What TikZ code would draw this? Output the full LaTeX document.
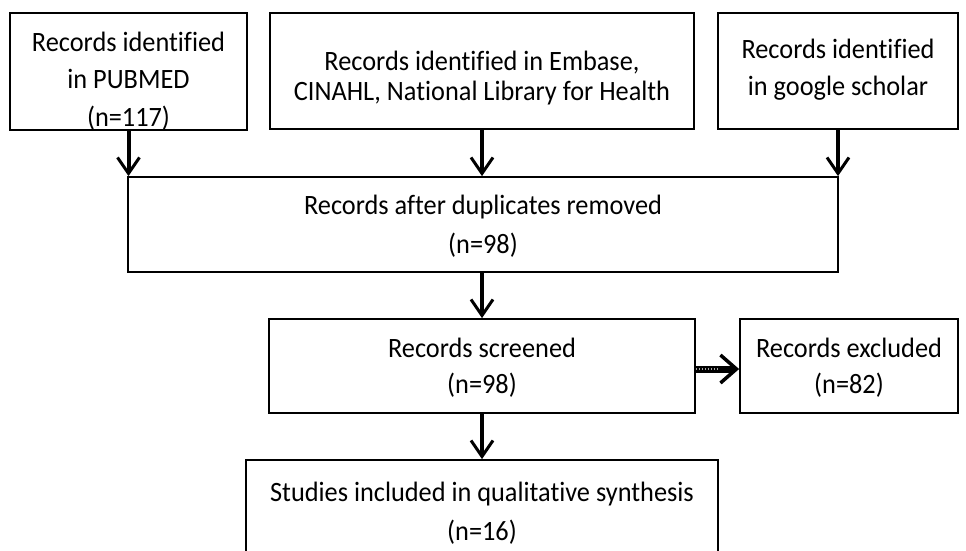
\documentclass[tikz,border=0pt]{standalone}
\usepackage{fontspec}
\setmainfont{Carlito}[FakeStretch=0.94,Ligatures=CommonOff]
\usetikzlibrary{arrows.meta,calc}
\begin{document}
\begin{tikzpicture}[x=1pt,y=-1pt,
  box/.style={draw, line width=1.8pt, rectangle, inner sep=0pt},
  txt/.style={align=center, inner sep=0pt, font=\fontsize{28}{37.5}\selectfont},
  varrow/.style={line width=4pt, -{Straight Barb[length=16pt,width=22pt,line width=3pt]}},
  harrow/.style={line width=7pt, -{Straight Barb[length=16pt,width=28pt,line width=3.5pt]}}
]
\useasboundingbox (0,0) rectangle (966,550);
% boxes
\node[box, minimum width=237pt, minimum height=117pt] (pub) at (128.5,71.5) {};
\node[box, minimum width=424pt, minimum height=116pt] (emb) at (482,71) {};
\node[box, minimum width=240pt, minimum height=116pt] (sch) at (838,71) {};
\node[box, minimum width=710pt, minimum height=95pt] (dup) at (483,224.5) {};
\node[box, minimum width=426pt, minimum height=94pt] (scr) at (482,366) {};
\node[box, minimum width=218pt, minimum height=94pt] (exc) at (849,366) {};
\node[box, minimum width=472pt, minimum height=94pt] (stu) at (482,507) {};
% texts
\node[txt] (pubT) at (128.5,81) {Records identified\\in PUBMED\\(n=117)};
\node[txt, font=\fontsize{28}{30.5}\selectfont] (embT) at (482,78) {Records identified in Embase,\\CINAHL, National Library for Health};
\node[txt, font=\fontsize{28}{37}\selectfont] (schT) at (838,70) {Records identified\\in google scholar};
\node[txt, font=\fontsize{28}{39}\selectfont] (dupT) at (483,226) {Records after duplicates removed\\(n=98)};
\node[txt, font=\fontsize{28}{36}\selectfont] (scrT) at (482,368) {Records screened\\(n=98)};
\node[txt, font=\fontsize{28}{36}\selectfont] (excT) at (849,368) {Records excluded\\(n=82)};
\node[txt, font=\fontsize{28}{39}\selectfont] (stuT) at (482,513) {Studies included in qualitative synthesis\\(n=16)};
% arrows
\draw[varrow] (pub.south) -- (pub.south |- dup.north);
\draw[varrow] (emb.south) -- (emb.south |- dup.north);
\draw[varrow] (sch.south) -- (sch.south |- dup.north);
\draw[varrow] (dup.south -| scr.north) -- (scr.north);
\draw[varrow] (scr.south) -- (stu.north);
\draw[harrow] ([yshift=-3pt]scr.east) -- ([yshift=-3pt]exc.west);
\draw[gray!70, line width=2pt, dash pattern=on 1.5pt off 1.5pt] ([yshift=-3pt]scr.east) -- ([yshift=-3pt,xshift=-22pt]exc.west);
\end{tikzpicture}
\end{document}
